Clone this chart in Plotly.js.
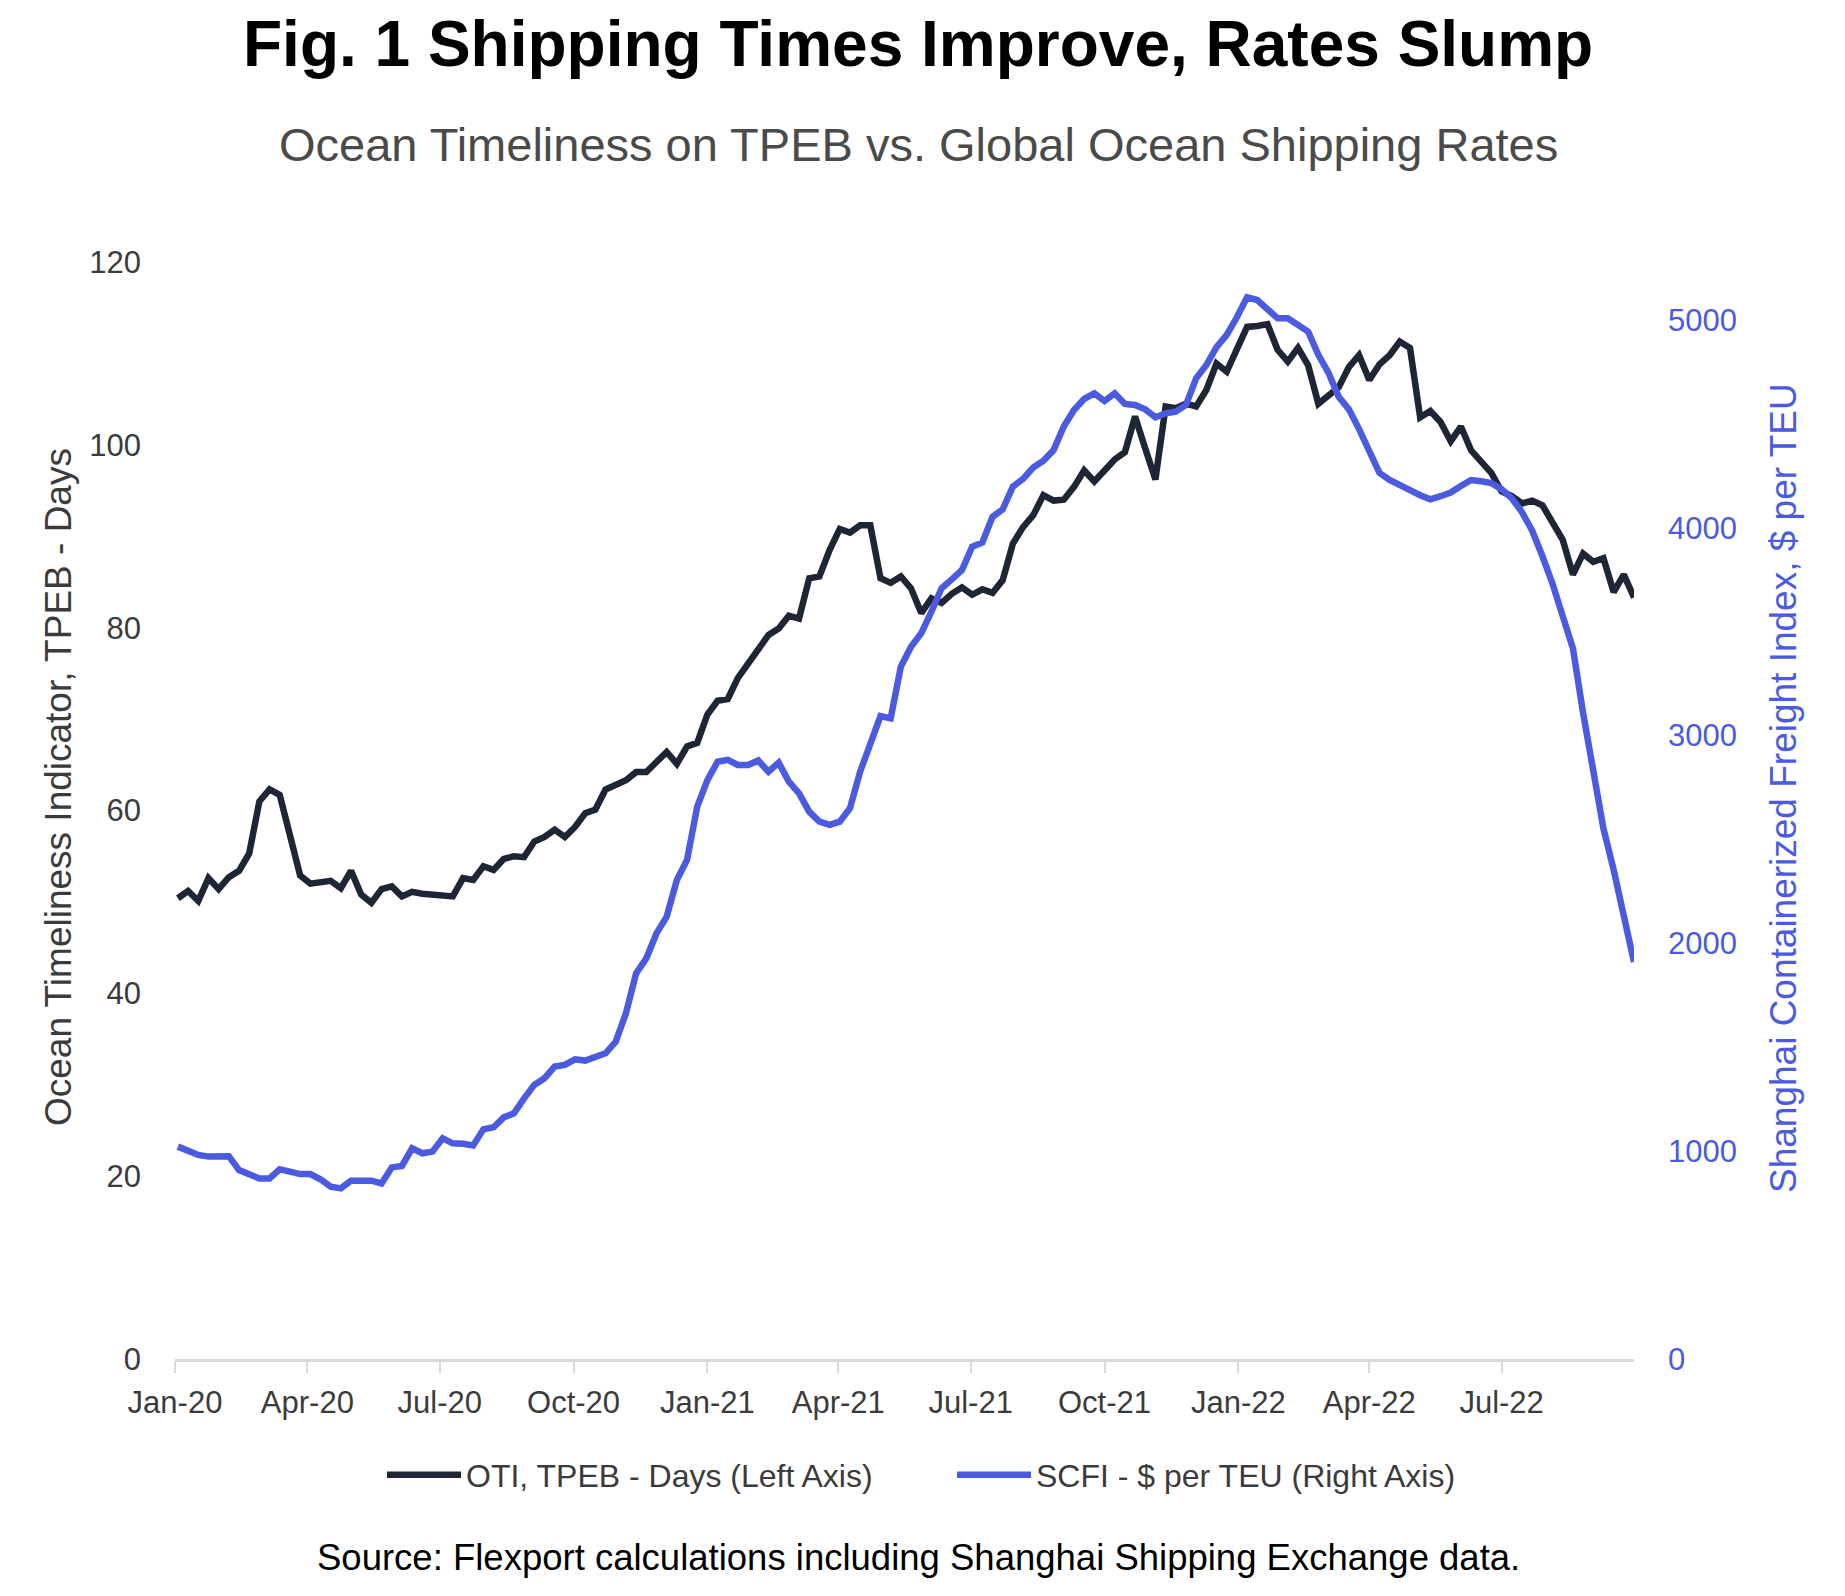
<!DOCTYPE html>
<html>
<head>
<meta charset="utf-8">
<script src="https://cdn.plot.ly/plotly-3.0.1.min.js"></script>
<style>
  html, body { margin: 0; padding: 0; background: #ffffff; }
  #chart { width: 1845px; height: 1596px; }
</style>
</head>
<body>
<div id="chart"></div>
<script>
// ---- Data (weekly, first week ending Fri 3 Jan 2020) ----
const firstWeek = "2020-01-03";
const weekCount = 144;

// Ocean Timeliness Indicator, TPEB - days (left axis)
const otiDays = [
  50.4, 51.2, 50.1, 52.6, 51.4, 52.7, 53.4, 55.3, 61.0, 62.3,
  61.7, 57.1, 52.9, 52.0, 52.1, 52.3, 51.5, 53.4, 50.8, 49.9,
  51.4, 51.7, 50.6, 51.1, 50.9, 50.8, 50.7, 50.6, 52.6, 52.4,
  53.9, 53.5, 54.7, 55.0, 54.9, 56.6, 57.1, 57.9, 57.1, 58.2,
  59.7, 60.1, 62.3, 62.9, 63.3, 64.2, 64.2, 65.3, 66.4, 65.1,
  67.0, 67.4, 70.5, 72.0, 72.2, 74.5, 76.0, 77.5, 79.2, 79.9,
  81.3, 81.0, 85.4, 85.6, 88.5, 90.8, 90.4, 91.2, 91.2, 85.4,
  84.9, 85.6, 84.3, 81.6, 83.2, 82.7, 83.7, 84.4, 83.6, 84.2,
  83.8, 85.2, 89.2, 91.0, 92.3, 94.5, 93.9, 94.0, 95.4, 97.2,
  96.0, 97.2, 98.4, 99.2, 103.1, 99.6, 96.2, 104.2, 104.0, 104.5,
  104.2, 106.0, 108.9, 108.0, 110.4, 112.9, 113.0, 113.2, 110.4, 109.1,
  110.6, 108.7, 104.5, 105.5, 106.3, 108.5, 109.8, 107.1, 108.8, 109.8,
  111.3, 110.6, 103.0, 103.7, 102.5, 100.4, 102.0, 99.4, 98.2, 96.9,
  94.9, 94.4, 93.6, 93.9, 93.4, 91.4, 89.6, 85.8, 88.1, 87.2,
  87.6, 83.9, 85.8, 83.3
];

// Shanghai Containerized Freight Index - $ per TEU (right axis)
const scfiRates = [
  1022, 1003, 982, 974, 977, 976, 909, 885, 869, 869,
  913, 902, 890, 890, 865, 829, 821, 858, 858, 858,
  845, 922, 929, 1014, 990, 998, 1062, 1038, 1036, 1028,
  1105, 1115, 1163, 1182, 1254, 1319, 1351, 1407, 1415, 1442,
  1436, 1452, 1471, 1527, 1664, 1856, 1928, 2048, 2129, 2305,
  2401, 2658, 2786, 2874, 2883, 2859, 2859, 2880, 2826, 2870,
  2778, 2722, 2634, 2586, 2570, 2586, 2650, 2826, 2971, 3094,
  3083, 3332, 3428, 3492, 3596, 3709, 3752, 3797, 3909, 3929,
  4053, 4089, 4198, 4235, 4290, 4323, 4374, 4487, 4567, 4620,
  4647, 4610, 4647, 4596, 4591, 4570, 4532, 4551, 4559, 4591,
  4719, 4783, 4869, 4928, 5013, 5109, 5096, 5051, 5008, 5008,
  4976, 4944, 4832, 4745, 4630, 4570, 4475, 4370, 4264, 4230,
  4201, 4181, 4157, 4137, 4152, 4170, 4201, 4230, 4224, 4215,
  4186, 4142, 4075, 3986, 3864, 3731, 3575, 3420, 3109, 2820,
  2553, 2354, 2132, 1910
];

const seriesNames = ["OTI, TPEB - Days (Left Axis)", "SCFI - $ per TEU (Right Axis)"];
const leftTicks = [0, 20, 40, 60, 80, 100, 120];
const rightTicks = [0, 1000, 2000, 3000, 4000, 5000];
const xRange = ["2020-01-01", "2022-09-30"];

const chartTitle = "Fig. 1 Shipping Times Improve, Rates Slump";
const chartSubtitle = "Ocean Timeliness on TPEB vs. Global Ocean Shipping Rates";
const leftAxisTitle = "Ocean Timeliness Indicator, TPEB - Days";
const rightAxisTitle = "Shanghai Containerized Freight Index, $ per TEU";
const sourceNote = "Source: Flexport calculations including Shanghai Shipping Exchange data.";

// ---- Build weekly dates (category axis) ----
function weeklyDates(start, n) {
  const out = [];
  const d0 = new Date(start + "T00:00:00Z");
  for (let i = 0; i < n; i++) {
    const d = new Date(d0.getTime() + i * 7 * 86400000);
    out.push(d.toISOString().slice(0, 10));
  }
  return out;
}
const weeks = weeklyDates(firstWeek, weekCount);

// ---- Styling ----
const FONT = "Liberation Sans, Arial, sans-serif";
const DARK = "#1e2635";
const BLUE = "#4a5be2";
const TEXT = "#3b3b3b";

const traces = [
  {
    x: weeks, y: otiDays, name: seriesNames[0], type: "scatter", mode: "lines",
    line: { color: DARK, width: 6.5, shape: "linear" }, yaxis: "y"
  },
  {
    x: weeks, y: scfiRates, name: seriesNames[1], type: "scatter", mode: "lines",
    line: { color: BLUE, width: 6.5, shape: "linear" }, yaxis: "y2"
  }
];

const L = 175, R = 211, T = 262, B = 237, W = 1845, H = 1596;
const plotW = W - L - R, plotH = H - T - B;
const px2x = (px) => (px - L) / plotW;
const px2y = (py) => (H - B - py) / plotH;

const layout = {
  width: W, height: H,
  margin: { l: L, r: R, t: T, b: B, pad: 0 },
  paper_bgcolor: "#ffffff", plot_bgcolor: "#ffffff",
  font: { family: FONT, color: TEXT, size: 31 },
  showlegend: true,
  hovermode: false,
  xaxis: {
    type: "date", range: xRange,
    tick0: "2020-01-01", dtick: "M3", tickformat: "%b-%y",
    ticks: "outside", ticklen: 11, tickwidth: 2, tickcolor: "#d9d9d9",
    showline: true, linecolor: "#d9d9d9", linewidth: 3,
    showgrid: false, zeroline: false,
    tickfont: { family: FONT, size: 31, color: TEXT },
    ticklabelstandoff: 3
  },
  yaxis: {
    range: [0, 120], tickmode: "array", tickvals: leftTicks,
    showline: false, showgrid: false, zeroline: false, ticks: "",
    tickfont: { family: FONT, size: 31, color: TEXT },
    ticklabelstandoff: 33
  },
  yaxis2: {
    overlaying: "y", side: "right",
    range: [0, 5279], tickmode: "array", tickvals: rightTicks,
    showline: false, showgrid: false, zeroline: false, ticks: "",
    tickfont: { family: FONT, size: 31, color: BLUE },
    ticklabelstandoff: 33
  },
  legend: {
    orientation: "h",
    x: px2x(382), xanchor: "left",
    y: px2y(1475), yanchor: "middle",
    font: { family: FONT, size: 32, color: TEXT },
    itemwidth: 74,
    entrywidth: 481,
    bgcolor: "rgba(0,0,0,0)", borderwidth: 0,
    tracegroupgap: 0
  },
  annotations: [
    {
      text: chartTitle, xref: "paper", yref: "paper",
      x: px2x(918), y: px2y(44), xanchor: "center", yanchor: "middle",
      showarrow: false,
      font: { family: FONT, size: 64, color: "#000000", weight: 700 }
    },
    {
      text: chartSubtitle, xref: "paper", yref: "paper",
      x: px2x(918), y: px2y(144), xanchor: "center", yanchor: "middle",
      showarrow: false,
      font: { family: FONT, size: 47, color: "#4a4a4a" }
    },
    {
      text: leftAxisTitle, xref: "paper", yref: "paper",
      x: px2x(58), y: px2y(787), xanchor: "center", yanchor: "middle",
      textangle: -90, showarrow: false,
      font: { family: FONT, size: 37, color: TEXT }
    },
    {
      text: rightAxisTitle, xref: "paper", yref: "paper",
      x: px2x(1783), y: px2y(788), xanchor: "center", yanchor: "middle",
      textangle: -90, showarrow: false,
      font: { family: FONT, size: 37, color: BLUE }
    },
    {
      text: sourceNote, xref: "paper", yref: "paper",
      x: px2x(918), y: px2y(1557), xanchor: "center", yanchor: "middle",
      showarrow: false,
      font: { family: FONT, size: 36.5, color: "#000000" }
    }
  ]
};

Plotly.newPlot("chart", traces, layout, { displayModeBar: false, staticPlot: true });
</script>
</body>
</html>
